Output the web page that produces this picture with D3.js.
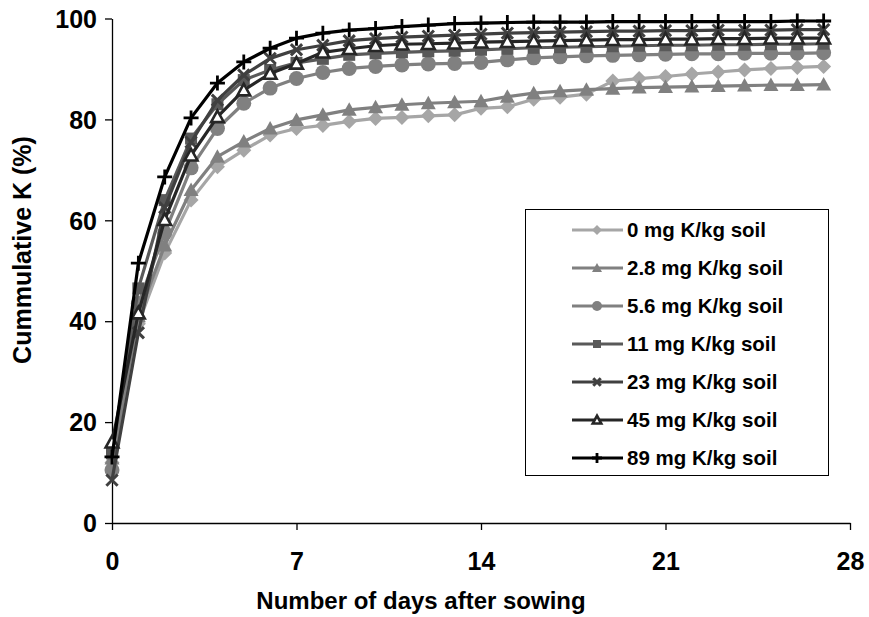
<!DOCTYPE html>
<html>
<head>
<meta charset="utf-8">
<script src="https://cdnjs.cloudflare.com/ajax/libs/d3/7.8.5/d3.min.js"></script>
<style>
  html, body { margin: 0; padding: 0; background: #ffffff; }
  svg { display: block; }
  text { font-family: "Liberation Sans", Arial, sans-serif; font-weight: bold; fill: #000; }
</style>
</head>
<body>
<svg id="chart" width="869" height="617"></svg>
<script>
// Days after sowing (daily readings)
const days = d3.range(0, 28);

// Cumulative K released (%) for each K rate
const k0   = [12.0, 39.5, 53.5, 64.0, 70.6, 73.9, 76.9, 78.2, 78.8, 79.6, 80.2, 80.4, 80.7, 80.9, 82.2, 82.5, 84.0, 84.4, 85.0, 87.6, 88.1, 88.5, 89.0, 89.4, 89.8, 90.1, 90.3, 90.5];
const k2_8 = [12.8, 41.0, 55.0, 66.0, 72.6, 75.6, 78.2, 79.9, 80.9, 81.9, 82.4, 82.9, 83.2, 83.4, 83.6, 84.5, 85.2, 85.6, 85.9, 86.1, 86.3, 86.4, 86.5, 86.6, 86.7, 86.8, 86.8, 86.9];
const k5_6 = [10.5, 43.5, 57.5, 70.4, 78.2, 83.2, 86.2, 88.1, 89.3, 90.1, 90.5, 90.8, 91.0, 91.1, 91.3, 91.8, 92.2, 92.4, 92.6, 92.7, 92.8, 92.9, 93.0, 93.0, 93.1, 93.1, 93.1, 93.2];
const k11  = [13.8, 46.5, 64.0, 76.2, 83.0, 87.8, 89.8, 91.2, 92.0, 92.8, 93.1, 93.3, 93.5, 93.6, 93.8, 94.0, 94.2, 94.3, 94.4, 94.5, 94.6, 94.7, 94.7, 94.8, 94.8, 94.9, 94.9, 95.0];
const k23  = [8.5, 37.7, 62.5, 75.5, 83.8, 88.8, 92.1, 93.8, 94.7, 95.6, 96.0, 96.3, 96.5, 96.7, 96.9, 97.1, 97.2, 97.3, 97.4, 97.5, 97.5, 97.6, 97.6, 97.7, 97.7, 97.7, 97.8, 97.8];
const k45  = [16.0, 41.6, 60.1, 72.9, 80.5, 85.8, 89.1, 91.1, 93.3, 94.0, 94.6, 94.9, 95.0, 95.1, 95.3, 95.4, 95.5, 95.6, 95.7, 95.8, 95.8, 95.9, 95.9, 96.0, 96.0, 96.1, 96.1, 96.1];
const k89  = [13.1, 51.5, 68.6, 80.3, 87.2, 91.4, 94.1, 96.1, 97.1, 97.7, 98.0, 98.4, 98.7, 99.0, 99.1, 99.2, 99.3, 99.3, 99.3, 99.4, 99.4, 99.4, 99.4, 99.4, 99.4, 99.4, 99.5, 99.5];

const seriesNames = ["0 mg K/kg soil", "2.8 mg K/kg soil", "5.6 mg K/kg soil", "11 mg K/kg soil", "23 mg K/kg soil", "45 mg K/kg soil", "89 mg K/kg soil"];
const seriesValues = [k0, k2_8, k5_6, k11, k23, k45, k89];

const xTicks = [0, 7, 14, 21, 28];
const yTicks = [0, 20, 40, 60, 80, 100];

// Visual style per series: colour and marker shape
const styles = [
  { color: "#a6a6a6", marker: "diamond" },
  { color: "#808080", marker: "triangle" },
  { color: "#808080", marker: "circle" },
  { color: "#595959", marker: "square" },
  { color: "#404040", marker: "x" },
  { color: "#262626", marker: "triangleOpen" },
  { color: "#000000", marker: "plus" }
];

const svg = d3.select("#chart");

const x = d3.scaleLinear().domain([0, 28]).range([112, 850]);
const y = d3.scaleLinear().domain([0, 100]).range([523, 18.5]);

// Axes
const xAxis = d3.axisBottom(x).tickValues(xTicks).tickSize(7).tickPadding(22).tickSizeOuter(0);
const yAxis = d3.axisLeft(y).tickValues(yTicks).tickSize(7).tickPadding(8).tickSizeOuter(0);

const gx = svg.append("g").attr("transform", `translate(0,${y(0)})`).call(xAxis);
const gy = svg.append("g").attr("transform", `translate(${x(0)},0)`).call(yAxis);
[gx, gy].forEach(g => {
  g.select(".domain").attr("stroke", "#000").attr("stroke-width", 1.3);
  g.selectAll(".tick line").attr("stroke", "#000").attr("stroke-width", 1.3);
  g.selectAll(".tick text").style("font-size", "25px").style("font-family", "'Liberation Sans', Arial, sans-serif").style("font-weight", "bold").attr("fill", "#000");
});
gy.selectAll(".tick text").attr("dy", "0.35em");
gx.selectAll(".tick text").attr("dy", "0.71em");

// Axis titles
svg.append("text")
  .attr("x", 421).attr("y", 609)
  .attr("text-anchor", "middle")
  .style("font-size", "24px")
  .text("Number of days after sowing");

svg.append("text")
  .attr("transform", "translate(31,250) rotate(-90)")
  .attr("text-anchor", "middle")
  .style("font-size", "25px")
  .text("Cummulative K (%)");

// Marker drawing
function drawMarker(sel, type, color, r) {
  switch (type) {
    case "diamond":
      sel.append("path").attr("d", `M0,${-r}L${r},0L0,${r}L${-r},0Z`).attr("fill", color);
      break;
    case "triangle":
      sel.append("path").attr("d", `M0,${-r}L${r},${r * 0.8}L${-r},${r * 0.8}Z`).attr("fill", color);
      break;
    case "triangleOpen":
      sel.append("path").attr("d", `M0,${-r * 0.85}L${r * 0.85},${r * 0.7}L${-r * 0.85},${r * 0.7}Z`)
        .attr("fill", "#fff").attr("stroke", color).attr("stroke-width", 2.6).attr("stroke-linejoin", "miter");
      break;
    case "circle":
      sel.append("circle").attr("r", r).attr("fill", color);
      break;
    case "square":
      sel.append("rect").attr("x", -r * 0.8).attr("y", -r * 0.8).attr("width", r * 1.6).attr("height", r * 1.6).attr("fill", color);
      break;
    case "x":
      sel.append("path").attr("d", `M${-r * 0.75},${-r * 0.75}L${r * 0.75},${r * 0.75}M${-r * 0.75},${r * 0.75}L${r * 0.75},${-r * 0.75}`)
        .attr("stroke", color).attr("stroke-width", 3);
      break;
    case "plus":
      sel.append("path").attr("d", `M${-r},0L${r},0M0,${-r}L0,${r}`)
        .attr("stroke", color).attr("stroke-width", 2.8);
      break;
  }
}

const line = d3.line().x((d, i) => x(days[i])).y(d => y(d));

const plot = svg.append("g");
seriesValues.forEach((vals, si) => {
  const st = styles[si];
  const g = plot.append("g");
  g.append("path")
    .attr("d", line(vals))
    .attr("fill", "none")
    .attr("stroke", st.color)
    .attr("stroke-width", 3.2)
    .attr("stroke-linejoin", "round");
  vals.forEach((v, i) => {
    const m = g.append("g").attr("transform", `translate(${x(days[i])},${y(v)})`);
    drawMarker(m, st.marker, st.color, 7.5);
  });
});

// Legend
const legend = svg.append("g");
legend.append("rect")
  .attr("x", 525.5).attr("y", 209.5).attr("width", 303).attr("height", 266)
  .attr("fill", "#fff").attr("stroke", "#000").attr("stroke-width", 1);

seriesNames.forEach((name, i) => {
  const st = styles[i];
  const cy = 230 + i * 38;
  const row = legend.append("g").attr("transform", `translate(0,${cy})`);
  row.append("line").attr("x1", 572).attr("x2", 623).attr("y1", 0).attr("y2", 0)
    .attr("stroke", st.color).attr("stroke-width", 3);
  const m = row.append("g").attr("transform", "translate(597,0)");
  drawMarker(m, st.marker, st.color, 5);
  row.append("text").attr("x", 627).attr("y", 0).attr("dy", "0.35em")
    .style("font-size", "20.5px")
    .text(name);
});
</script>
</body>
</html>
